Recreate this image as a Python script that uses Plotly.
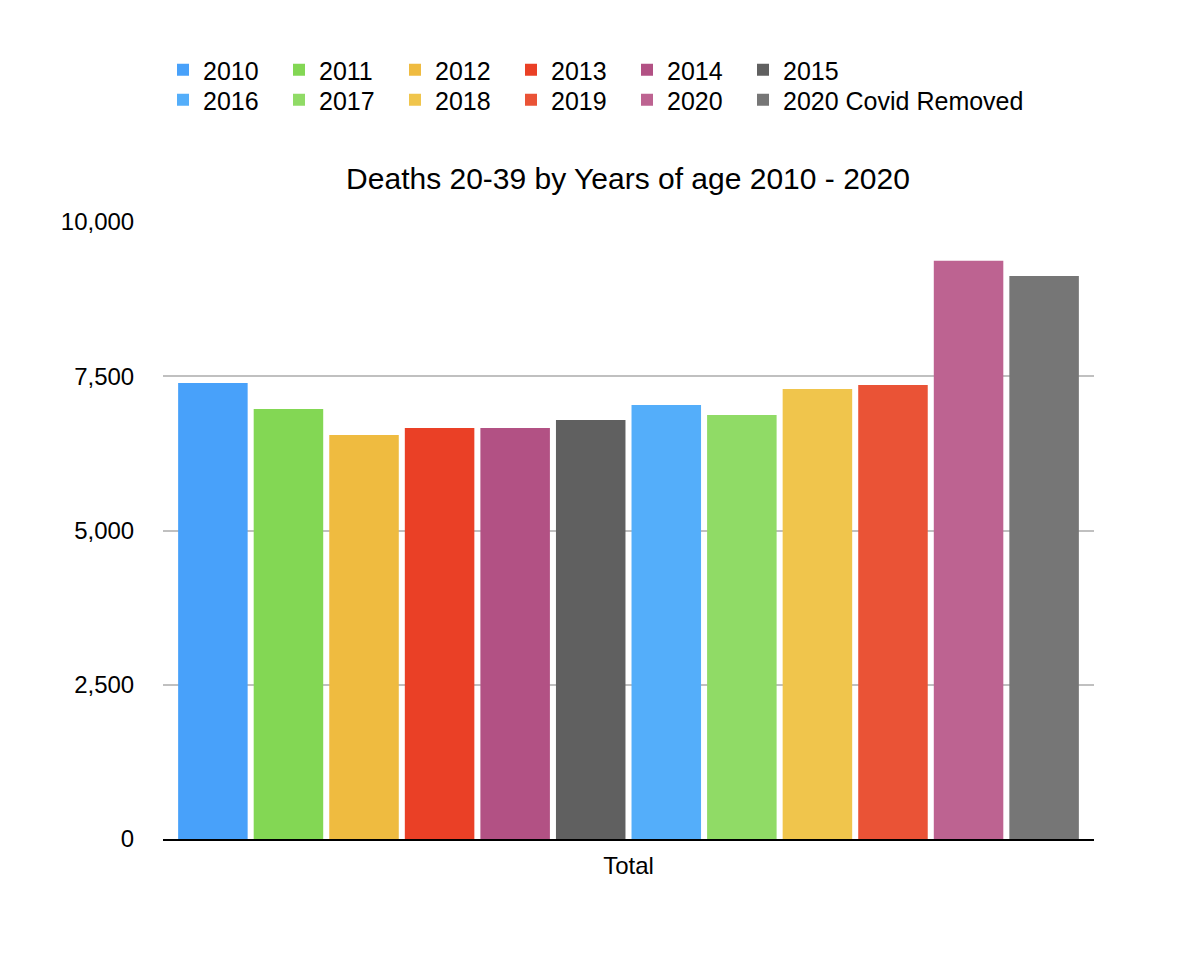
import plotly.graph_objects as go

categories = ["Total"]
series_names = ["2010", "2011", "2012", "2013", "2014", "2015",
                "2016", "2017", "2018", "2019", "2020", "2020 Covid Removed"]
series_values = [7392, 6970, 6549, 6662, 6662, 6792,
                 7035, 6873, 7295, 7359, 9370, 9126]
series_colors = ["#48A1FA", "#83D754", "#EFBB40", "#EA4026", "#B25184", "#606060",
                 "#54AEFA", "#90DB66", "#F0C54C", "#EA5336", "#BD6391", "#767676"]
legend_groups = ["legend"] * 6 + ["legend2"] * 5 + ["legend3"]
y_tickvals = [0, 2500, 5000, 7500, 10000]
y_ticktext = ["0", "2,500", "5,000", "7,500", "10,000"]
title_text = "Deaths 20-39 by Years of age 2010 - 2020"

FONT = "Liberation Sans, Arial, Helvetica, sans-serif"

fig = go.Figure()
for name, val, col, lg in zip(series_names, series_values, series_colors, legend_groups):
    fig.add_trace(go.Bar(
        x=categories, y=[val], name=name,
        marker=dict(color=col, line=dict(width=0)),
        legend=lg,
    ))

PLOT_W = 931.0
PLOT_H = 617.0


def legend_cfg(x_px, y_px, fixed=True):
    cfg = dict(
        orientation="h", xanchor="left", yanchor="middle",
        x=(x_px - 163) / PLOT_W, y=(839 - y_px) / PLOT_H,
        font=dict(family=FONT, size=25, color="#000"),
        bgcolor="rgba(0,0,0,0)", borderwidth=0,
        traceorder="normal", itemclick=False, itemdoubleclick=False,
    )
    if fixed:
        cfg.update(entrywidth=71, entrywidthmode="pixels")
    return cfg


fig.update_layout(
    width=1204, height=960,
    margin=dict(l=155, r=118, t=214, b=129),
    paper_bgcolor="white", plot_bgcolor="white",
    barmode="group", bargap=0.026, bargroupgap=0.08,
    font=dict(family=FONT, color="#000"),
    title=dict(text=title_text, x=620 / 1204, xanchor="center", y=1 - 170 / 960, yanchor="middle",
               font=dict(family=FONT, size=30, color="#000")),
    legend=legend_cfg(163, 70),
    legend2=legend_cfg(163, 100),
    legend3=legend_cfg(163 + 5 * 116, 100, fixed=False),
    xaxis=dict(
        showgrid=False, showline=True, linecolor="#000", linewidth=2,
        ticks="outside", ticklen=4, tickcolor="rgba(0,0,0,0)",
        tickfont=dict(family=FONT, size=24, color="#000"),
    ),
    yaxis=dict(
        range=[0, 10000], tickvals=y_tickvals, ticktext=y_ticktext,
        showgrid=True, gridcolor="#C0C0C0", gridwidth=2,
        zeroline=False, showline=False,
        ticks="outside", ticklen=23, tickcolor="rgba(0,0,0,0)",
        tickfont=dict(family=FONT, size=24, color="#000"),
    ),
    showlegend=True,
)

fig.write_html("out.html")
